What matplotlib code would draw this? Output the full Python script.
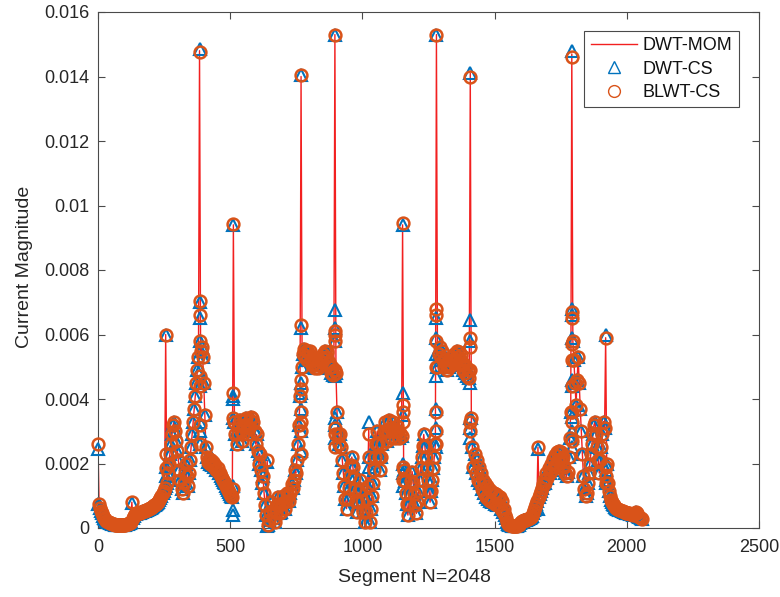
import numpy as np
import matplotlib
matplotlib.use('Agg')
import matplotlib.pyplot as plt

plt.rcParams['font.family'] = ['Liberation Sans', 'DejaVu Sans']

# ---------------- data (current magnitude in units of 1e-3) ----------------
# DWT-MOM current read every 4 segments; one row per 128-segment block
mom_blocks = [
    [2.6, 0.75, 0.62, 0.52, 0.45, 0.38, 0.32, 0.27, 0.23, 0.2, 0.18, 0.16, 0.14, 0.13, 0.12, 0.11,
     0.1, 0.1, 0.1, 0.09, 0.09, 0.09, 0.08, 0.08, 0.08, 0.09, 0.1, 0.11, 0.12, 0.14, 0.16, 0.2],
    [0.8, 0.3, 0.38, 0.42, 0.44, 0.45, 0.46, 0.47, 0.48, 0.49, 0.5, 0.52, 0.53, 0.55, 0.56, 0.58,
     0.6, 0.61, 0.63, 0.65, 0.67, 0.7, 0.72, 0.75, 0.78, 0.82, 0.87, 0.93, 1.0, 1.08, 1.15, 1.25],
    [6.0, 1.4, 1.7, 2.0, 2.3, 2.6, 2.9, 3.2, 3.3, 3.0, 2.7, 2.4, 2.1, 1.8, 1.5, 1.2,
     1.1, 1.4, 1.7, 2.0, 1.6, 1.3, 1.7, 2.1, 2.5, 2.9, 3.3, 3.7, 4.1, 4.5, 4.9, 5.3],
    [14.8, 5.5, 5.6, 5.3, 4.5, 3.5, 2.5, 2.2, 2.05, 2.15, 2.0, 2.1, 1.95, 2.05, 1.9, 1.95,
     1.8, 1.85, 1.7, 1.7, 1.6, 1.55, 1.5, 1.42, 1.38, 1.3, 1.25, 1.18, 1.12, 1.05, 1.0, 0.95],
    [9.4, 3.3, 2.9, 2.6, 2.9, 3.2, 3.35, 3.0, 2.7, 2.9, 3.2, 3.35, 3.4, 3.2, 2.9, 3.1,
     3.35, 3.45, 3.4, 3.3, 3.0, 2.6, 2.9, 2.4, 2.0, 2.3, 1.8, 1.4, 1.6, 1.1, 0.7, 0.4],
    [2.1, 0.1, 0.25, 0.5, 0.8, 0.55, 0.3, 0.2, 0.45, 0.7, 0.95, 0.7, 0.45, 0.5, 0.75, 1.0,
     0.8, 0.6, 0.85, 1.1, 1.0, 0.85, 1.1, 1.35, 1.25, 1.5, 1.8, 1.7, 2.1, 2.6, 3.2, 4.1],
    [14.0, 5.0, 5.4, 5.55, 5.3, 5.5, 5.2, 5.45, 5.5, 5.25, 5.05, 5.3, 5.1, 4.95, 5.2, 5.05,
     4.95, 5.2, 5.05, 5.3, 5.15, 5.4, 5.25, 5.5, 5.3, 5.45, 5.15, 5.0, 4.8, 5.0, 4.75, 4.9],
    [15.3, 4.8, 3.6, 2.9, 2.6, 2.9, 2.5, 2.1, 1.7, 1.3, 0.9, 0.6, 0.9, 1.25, 1.6, 1.95,
     2.2, 1.9, 1.55, 1.2, 0.85, 0.5, 0.8, 1.15, 1.5, 1.2, 0.85, 0.5, 0.2, 0.5, 0.9, 1.3],
    [3.1, 0.2, 0.6, 1.0, 1.4, 1.8, 2.2, 2.6, 3.0, 2.6, 2.2, 1.8, 2.2, 2.6, 3.0, 3.3,
     3.0, 2.7, 3.0, 3.35, 3.1, 2.8, 3.1, 3.3, 3.0, 2.8, 3.0, 3.15, 3.0, 2.8, 2.95, 2.85],
    [9.4, 1.8, 1.45, 1.1, 0.75, 0.4, 0.75, 1.1, 1.45, 1.75, 1.4, 1.05, 0.7, 0.45, 0.8, 1.15,
     1.5, 1.85, 2.2, 2.55, 2.9, 2.55, 2.2, 1.85, 1.5, 1.15, 0.8, 1.15, 1.5, 1.85, 2.2, 2.6],
    [15.3, 5.0, 5.4, 5.6, 5.3, 5.5, 5.2, 5.0, 5.2, 5.05, 4.9, 5.1, 5.0, 5.2, 5.05, 5.3,
     5.15, 5.4, 5.25, 5.5, 5.3, 5.45, 5.2, 5.35, 5.1, 4.9, 5.1, 4.8, 5.0, 4.7, 4.9, 4.65],
    [14.1, 3.4, 2.5, 1.9, 2.3, 1.7, 2.1, 1.5, 1.9, 1.4, 1.7, 1.2, 1.5, 1.1, 1.4, 0.95,
     1.3, 0.9, 1.2, 0.85, 1.15, 0.8, 1.1, 0.75, 1.05, 0.7, 1.0, 0.7, 0.95, 0.6, 0.85, 0.5],
    [0.6, 0.4, 0.3, 0.2, 0.12, 0.1, 0.08, 0.07, 0.07, 0.06, 0.06, 0.06, 0.07, 0.08, 0.1, 0.15,
     0.2, 0.22, 0.23, 0.24, 0.25, 0.26, 0.27, 0.28, 0.3, 0.33, 0.38, 0.45, 0.55, 0.65, 0.75, 0.85],
    [2.5, 0.95, 1.05, 1.15, 1.25, 1.35, 1.5, 1.4, 1.7, 1.55, 1.85, 1.7, 2.0, 1.8, 2.15, 1.9,
     2.25, 2.0, 2.35, 2.1, 2.4, 2.15, 2.35, 2.1, 2.2, 1.9, 1.7, 1.6, 1.75, 2.2, 2.8, 3.6],
    [14.7, 5.8, 5.2, 4.5, 3.8, 4.6, 5.3, 4.5, 3.7, 3.0, 2.3, 1.6, 1.2, 1.0, 1.1, 1.4,
     1.7, 2.0, 2.3, 2.6, 2.9, 3.2, 3.3, 2.9, 2.5, 2.1, 1.7, 2.1, 2.5, 2.9, 3.3, 3.1],
    [5.9, 2.0, 1.4, 1.15, 1.0, 0.88, 0.8, 0.74, 0.7, 0.66, 0.62, 0.6, 0.58, 0.56, 0.55, 0.53,
     0.52, 0.5, 0.49, 0.48, 0.47, 0.46, 0.45, 0.44, 0.43, 0.42, 0.41, 0.42, 0.45, 0.5, 0.45, 0.38],
]
mom_tail = [0.33, 0.3, 0.28]

segments = np.arange(0, 2057, 4)

# values of the two CS solutions at the spike segments
spike_seg = [0, 128, 256, 384, 512, 640, 768, 896, 1024, 1152, 1280, 1408, 1664, 1792, 1920]
cs_spike = [2.45, 0.78, 6.0, 14.85, 9.4, 2.05, 14.05, 15.3, 3.3, 9.4, 15.3, 14.1, 2.45, 14.8, 6.0]
bl_spike = [2.6, 0.8, 6.0, 14.75, 9.42, 2.1, 14.05, 15.28, 2.9, 9.45, 15.28, 14.0, 2.5, 14.6, 5.9]

# additional CS samples next to the spikes
cs_extra = {
    0: [0.75], 256: [1.9, 1.6, 1.3], 384: [7.0, 6.5, 5.8, 4.9, 4.4, 3.3, 3.0, 2.6],
    512: [4.1, 4.0, 3.4, 1.3, 0.55, 0.4], 640: [0.05], 768: [6.2, 4.5, 4.2, 3.7, 3.0, 2.4],
    896: [6.75, 6.2, 5.8, 4.7, 3.4, 3.2, 2.8], 1024: [2.2, 1.9], 1152: [4.2, 3.5, 2.0, 1.7, 1.3],
    1280: [6.5, 5.9, 5.4, 4.7, 3.7, 3.1, 2.5], 1408: [6.45, 5.8, 4.5, 3.4, 3.1, 2.8],
    1664: [0.6], 1792: [6.8, 6.6, 5.9, 4.6, 4.4, 3.65, 3.45, 3.0, 2.8, 2.5],
    1920: [2.0, 1.8, 1.5, 1.4],
}
bl_extra = {
    256: [1.85, 2.3], 384: [7.05, 6.6, 5.8, 4.7, 4.4, 3.2, 2.6], 512: [4.2, 3.4, 1.2],
    768: [6.3, 4.6, 4.3, 3.6, 3.3, 3.0, 2.3], 896: [6.1, 6.0, 5.8, 4.9, 3.1, 2.9, 2.5],
    1024: [2.2], 1152: [3.8, 3.6, 3.3, 1.9, 1.5], 1280: [6.8, 6.6, 5.8, 5.0, 3.6, 3.0, 2.6],
    1408: [5.9, 5.6, 4.9, 3.3, 3.0], 1792: [6.7, 6.5, 5.7, 5.2, 4.4, 3.6, 3.3, 2.7],
    1920: [1.9, 1.6, 1.4],
}

x_ticks = [0, 500, 1000, 1500, 2000, 2500]
y_ticks = [0, 0.002, 0.004, 0.006, 0.008, 0.01, 0.012, 0.014, 0.016]
y_ticklabels = ['0', '0.002', '0.004', '0.006', '0.008', '0.01', '0.012', '0.014', '0.016']

# ---------------- build series ----------------
scale = 1e-3
mom = np.array([v for blk in mom_blocks for v in blk] + mom_tail) * scale


def cs_series(spike_vals, extra):
    vals = mom.copy()
    for s, v in zip(spike_seg, spike_vals):
        vals[segments == s] = v * scale
    xs = list(segments)
    ys = list(vals)
    for s, lst in extra.items():
        for v in lst:
            xs.append(s)
            ys.append(v * scale)
    return np.array(xs), np.array(ys)


cs_x, cs_y = cs_series(cs_spike, cs_extra)
bl_x, bl_y = cs_series(bl_spike, bl_extra)

# ---------------- plot ----------------
BLUE = '#0072BD'
ORANGE = '#D95319'
RED = '#F22020'
AX = '#4a4a4a'
TXT = '#262626'

fig = plt.figure(figsize=(7.8, 5.97), dpi=100)
ax = fig.add_axes([98 / 780, 69 / 597, 661 / 780, 516 / 597])

ax.plot(segments, mom, color=RED, lw=1.0, label='DWT-MOM', zorder=2)
ax.plot(cs_x, cs_y, ls='none', marker='^', ms=9, mfc='none', mec=BLUE, mew=1.5,
        label='DWT-CS', zorder=3, clip_on=False)
ax.plot(bl_x, bl_y, ls='none', marker='o', ms=8.5, mfc='none', mec=ORANGE, mew=1.8,
        label='BLWT-CS', zorder=4, clip_on=False)

ax.set_xlim(0, 2500)
ax.set_ylim(0, 0.016)
ax.set_xticks(x_ticks)
ax.set_xticklabels([str(t) for t in x_ticks])
ax.set_yticks(y_ticks)
ax.set_yticklabels(y_ticklabels)

ax.tick_params(direction='in', top=True, right=True, length=5, width=0.8,
               color=AX, labelcolor=TXT, labelsize=13)
ax.tick_params(axis='x', pad=8)
ax.tick_params(axis='y', pad=6)
for sp in ax.spines.values():
    sp.set_color(AX)
    sp.set_linewidth(0.8)

ax.set_xlabel('Segment N=2048', fontsize=14, color=TXT)
ax.set_ylabel('Current Magnitude', fontsize=14, color=TXT)
ax.xaxis.set_label_coords(0.478, -0.079)
ax.yaxis.set_label_coords(-0.098, 0.506)

leg = ax.legend(loc='upper right', bbox_to_anchor=(0.9697, 0.963), borderaxespad=0,
                fontsize=13, frameon=True, fancybox=False, framealpha=1,
                edgecolor=AX, handlelength=2.6, handletextpad=0.3,
                labelspacing=0.35, borderpad=0.35)
leg.get_frame().set_linewidth(0.8)
for h in leg.legend_handles[1:]:
    h.set_markeredgewidth(1.0)
for t in leg.get_texts():
    t.set_color('#111111')

fig.savefig('out.png', dpi=100)
